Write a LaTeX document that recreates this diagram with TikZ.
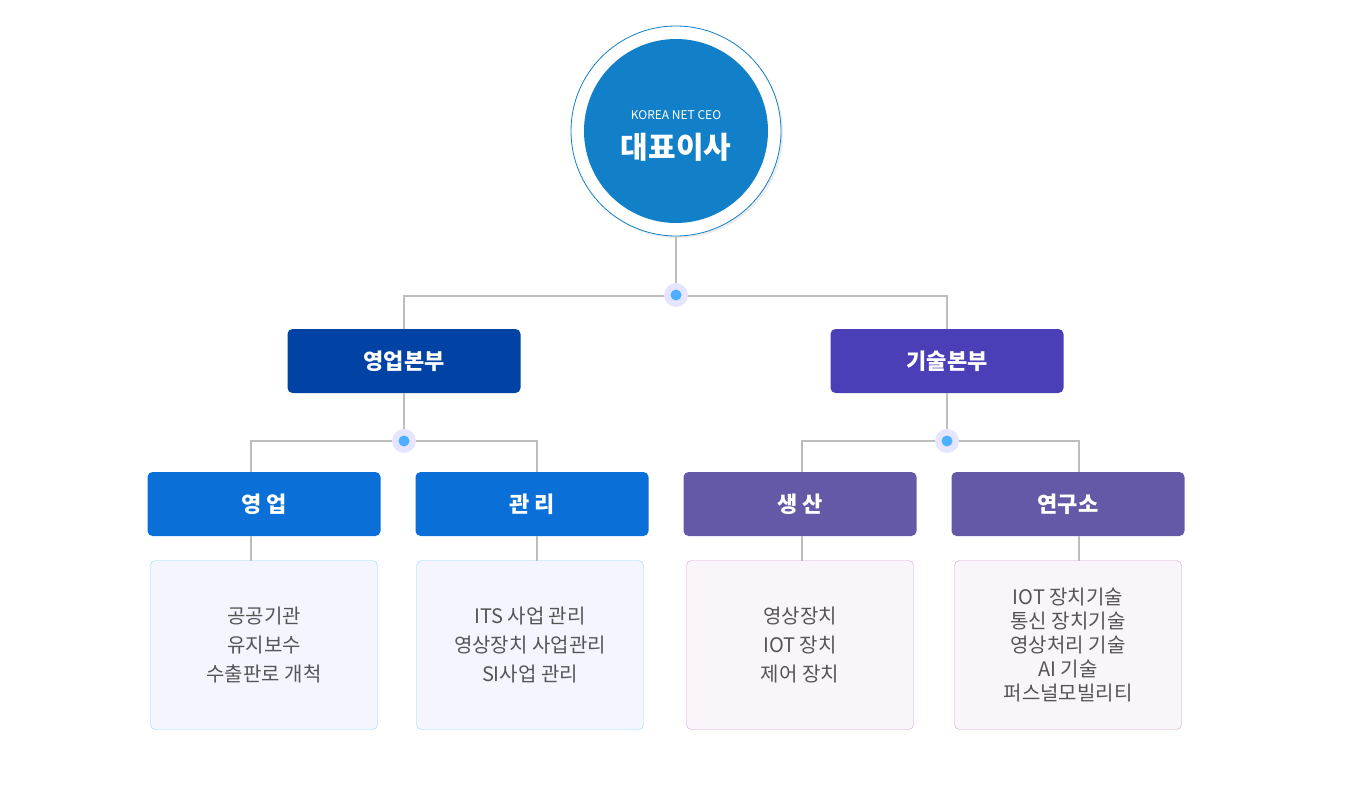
\documentclass[tikz,border=0pt]{standalone}
\usepackage{fontspec}
\newfontfamily\kr{Noto Sans CJK KR}
\usetikzlibrary{shadows}
\definecolor{ceoblue}{HTML}{1280C8}
\definecolor{salesblue}{HTML}{0043A4}
\definecolor{techpurple}{HTML}{4B3FB8}
\definecolor{teamblue}{HTML}{0A6FD6}
\definecolor{teampurple}{HTML}{6459A6}
\definecolor{wirecol}{HTML}{BDBDBD}
\definecolor{itemgray}{HTML}{555555}
\tikzset{
  wire/.style={draw=wirecol, line width=1.2pt},
  head/.style={rounded corners=5pt, minimum width=233pt, minimum height=64pt,
    text=white, font=\kr\fontsize{22}{26}\selectfont\bfseries},
  list/.style={rounded corners=5pt, minimum width=227pt, minimum height=169pt,
    text=itemgray, align=center, font=\kr\fontsize{20}{29}\selectfont},
  bluelist/.style={list, fill=blue!4!white, draw=blue!30!cyan!45},
  purplelist/.style={list, fill=violet!4!white, draw=violet!35},
}
\newcommand{\joint}[2]{%
  \fill[blue!10!white] (#1) circle (12pt);
  \fill[blue!45!cyan!70] (#1) circle (5.5pt);
  \coordinate (#2) at (#1);}
\begin{document}
\begin{tikzpicture}[x=1pt,y=-1pt]
  \useasboundingbox (0,0) rectangle (1350,800);
  % ceo
  \node[circle, minimum size=210pt, fill=white, draw=ceoblue, line width=0.8pt,
    drop shadow={opacity=0.15}] (ceo) at (676,131) {};
  \node[circle, minimum size=184pt, fill=ceoblue] (ceoin) at (676,131) {};
  \node[text=white, font=\kr\fontsize{12}{14}\selectfont] (ceoen) at (676,115) {KOREA NET CEO};
  \node[text=white, font=\kr\fontsize{30}{34}\selectfont\bfseries] (ceokr) at (676,147) {대표이사};
  % divisions
  \node[head, fill=salesblue] (sales) at (404,361) {영업본부};
  \node[head, fill=techpurple] (tech) at (947,361) {기술본부};
  % teams
  \node[head, fill=teamblue] (biz) at (264,504) {영 업};
  \node[head, fill=teamblue] (mgmt) at (532,504) {관 리};
  \node[head, fill=teampurple] (prod) at (800,504) {생 산};
  \node[head, fill=teampurple] (lab) at (1068,504) {연구소};
  % duties
  \node[bluelist] (bizlist) at (264,645) {공공기관\\유지보수\\수출판로 개척};
  \node[bluelist] (mgmtlist) at (530,645) {ITS 사업 관리\\영상장치 사업관리\\SI사업 관리};
  \node[purplelist] (prodlist) at (800,645) {영상장치\\IOT 장치\\제어 장치};
  \node[purplelist, font=\kr\fontsize{20}{24}\selectfont] (lablist) at (1068,645)
    {IOT 장치기술\\통신 장치기술\\영상처리 기술\\AI 기술\\퍼스널모빌리티};
  % wires
  \draw[wire] (ceo.south) -- (676,296);
  \draw[wire] (sales.north -| 404,0) |- (947,296) -- (tech.north);
  \draw[wire] (sales.south) -- (404,441);
  \draw[wire] (251,472) |- (537,441) -- (537,472);
  \draw[wire] (tech.south) -- (947,441);
  \draw[wire] (802,472) |- (1079,441) -- (1079,472);
  \draw[wire] (251,536) -- (251,561);
  \draw[wire] (537,536) -- (537,561);
  \draw[wire] (802,536) -- (802,561);
  \draw[wire] (1079,536) -- (1079,561);
  \joint{676,295}{j0}
  \joint{404,441}{j1}
  \joint{947,441}{j2}
\end{tikzpicture}
\end{document}
